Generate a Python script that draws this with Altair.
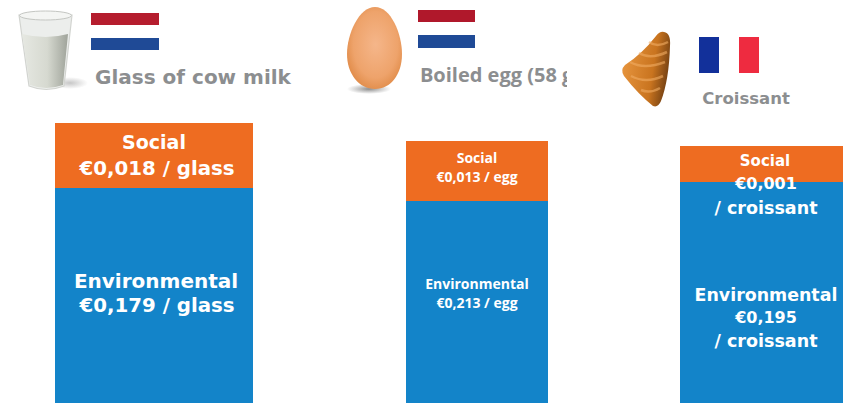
import base64
import altair as alt
import pandas as pd

ORANGE = "#EE6C21"
BLUE = "#1384C9"
GREY = "#8C8E90"
OPEN = "Open Sans"
WIDE = "DejaVu Sans"

# Cost per serving, in euros
products = ["Glass of cow milk", "Boiled egg (58 g)", "Croissant"]
environmental = [0.179, 0.213, 0.195]
social = [0.018, 0.013, 0.001]
units = ["glass", "egg", "croissant"]

# Each bar is read on its own scale, so the domains differ per product
y_domains = [(0.11946, 0.23106), (0.16923, 0.25655), (0.18886, 0.20006)]
bar_spans = [(55, 253), (406, 548), (680, 843)]

W, H = 843, 403


def euro(value):
    return "€" + f"{value:.3f}".replace(".", ",")


def data_uri(svg):
    return "data:image/svg+xml;base64," + base64.b64encode(svg.encode()).decode()


GLASS = """<svg xmlns='http://www.w3.org/2000/svg' viewBox='0 0 70 82' width='70' height='82'>
<defs>
<linearGradient id='m' x1='0' x2='1'><stop offset='0' stop-color='#e6e8e2'/><stop offset='.55' stop-color='#d6d9d0'/><stop offset='1' stop-color='#9fa39a'/></linearGradient>
<radialGradient id='s'><stop offset='0' stop-color='#999' stop-opacity='.55'/><stop offset='1' stop-color='#999' stop-opacity='0'/></radialGradient>
</defs>
<ellipse cx='52' cy='73' rx='18' ry='6' fill='url(#s)'/>
<path d='M1 5 Q27 -1 54 5 L46 76 Q28 83 11 76 Z' fill='#eceeec' stroke='#d2d4d0' stroke-width='1.2'/>
<path d='M4 24 Q28 30 50 24 L45 75 Q28 81 12 75 Z' fill='url(#m)'/>
<ellipse cx='27.5' cy='5.5' rx='26' ry='4.5' fill='#f4f5f3' stroke='#c4c6c2'/>
</svg>"""

EGG = """<svg xmlns='http://www.w3.org/2000/svg' viewBox='0 0 60 90' width='60' height='90'>
<defs>
<radialGradient id='e' cx='.52' cy='.46' r='.62'><stop offset='0' stop-color='#f5b68a'/><stop offset='.65' stop-color='#eea36b'/><stop offset='1' stop-color='#dd853f'/></radialGradient>
<radialGradient id='s'><stop offset='0' stop-color='#666' stop-opacity='.75'/><stop offset='1' stop-color='#777' stop-opacity='0'/></radialGradient>
</defs>
<ellipse cx='24' cy='83' rx='22' ry='5' fill='url(#s)'/>
<path d='M30 1 C46 1 57 28 57 48 C57 68 46 83 30 83 C14 83 2 68 2 48 C2 28 14 1 30 1 Z' fill='url(#e)'/>
</svg>"""

CROISSANT = """<svg xmlns='http://www.w3.org/2000/svg' viewBox='0 0 52 80' width='52' height='80'>
<defs><linearGradient id='c' x1='0' x2='1' y1='.3' y2='.55'><stop offset='0' stop-color='#e8963f'/><stop offset='.65' stop-color='#c9741f'/><stop offset='1' stop-color='#6e3d12'/></linearGradient></defs>
<path d='M44 2 Q51 3 50 16 Q49 50 41 71 Q38 78 33 76 Q18 64 4 46 Q0 40 5 35 Q22 24 36 6 Q40 1 44 2 Z' fill='url(#c)'/>
<path d='M10 32 Q24 40 45 32 M19 23 Q30 30 47 22 M29 12 Q37 18 48 12 M11 46 Q26 54 43 46 M21 60 Q30 64 40 58' stroke='#f0ab62' stroke-width='2.5' fill='none' opacity='.6'/>
</svg>"""

one_row = pd.DataFrame({"row": [0]})


def segment(frame, lo, hi, span, domain, color):
    return (
        alt.Chart(frame)
        .mark_rect(color=color, clip=True)
        .encode(
            x=alt.value(span[0]),
            x2=alt.value(span[1]),
            y=alt.Y(lo, type="quantitative", axis=None, scale=alt.Scale(domain=list(domain), nice=False, zero=False)),
            y2=alt.Y2(hi),
        )
    )


def label(text, cx, cy, size, color="white", font=WIDE):
    return (
        alt.Chart(pd.DataFrame({"t": [text]}))
        .mark_text(font=font, fontSize=size, fontWeight="bold", color=color, align="center", baseline="middle")
        .encode(text="t:N", x=alt.value(cx), y=alt.value(cy))
    )


def block(color, x0, x1, y0, y1):
    return (
        alt.Chart(one_row)
        .mark_rect(color=color)
        .encode(x=alt.value(x0), x2=alt.value(x1), y=alt.value(y0), y2=alt.value(y1))
    )


def picture(svg, x, y, w, h):
    return (
        alt.Chart(pd.DataFrame({"src": [data_uri(svg)]}))
        .mark_image(width=w, height=h, align="left", baseline="top")
        .encode(url="src:N", x=alt.value(x), y=alt.value(y))
    )


layers = []
for i in range(3):
    row = pd.DataFrame(
        {
            "base": [0.0],
            "env": [environmental[i]],
            "total": [round(environmental[i] + social[i], 3)],
        }
    )
    layers.append(segment(row, "base", "env", bar_spans[i], y_domains[i], BLUE))
    layers.append(segment(row, "env", "total", bar_spans[i], y_domains[i], ORANGE))

# Labels inside the bars
layers += [
    label("Social", 154, 143, 19),
    label(f"{euro(social[0])} / {units[0]}", 157, 169, 19.8),
    label("Environmental", 156, 282, 20),
    label(f"{euro(environmental[0])} / {units[0]}", 157, 306, 19.8),
    label("Social", 477, 159, 14, font=OPEN),
    label(f"{euro(social[1])} / {units[1]}", 477, 178, 14, font=OPEN),
    label("Environmental", 477, 285, 14, font=OPEN),
    label(f"{euro(environmental[1])} / {units[1]}", 477, 304, 14, font=OPEN),
    label("Social", 765, 161, 15),
    label(euro(social[2]), 766, 184, 16),
    label(f"/ {units[2]}", 766, 209, 17.5),
    label("Environmental", 766, 296, 17.4),
    label(euro(environmental[2]), 766, 318, 16),
    label(f"/ {units[2]}", 766, 342, 17.5),
]

# Product headings, with the origin flag beside each picture
layers += [
    picture(GLASS, 18, 10, 70, 82),
    picture(EGG, 345, 6, 60, 90),
    picture(CROISSANT, 620, 30, 52, 80),
    block("#B51D2E", 91, 159, 13, 25),
    block("#1F4A96", 91, 159, 38, 50),
    block("#B0182B", 418, 475, 10, 22),
    block("#1F4A96", 418, 475, 35, 48),
    block("#12309A", 699, 719, 37, 73),
    block("#EE2B40", 739, 759, 37, 73),
    label(products[0], 193, 78, 20, color=GREY),
    label(products[1], 500, 76, 20, color=GREY, font=OPEN),
    block("white", 567, 600, 60, 95),
    label(products[2], 746, 99, 16.5, color=GREY),
]

chart = (
    alt.layer(*layers)
    .resolve_scale(y="independent")
    .properties(width=W, height=H, padding=0, autosize=alt.AutoSizeParams(type="none"), background="white")
    .configure_view(stroke=None)
)

chart.save("out.html", embed_options={"renderer": "svg", "actions": False})
